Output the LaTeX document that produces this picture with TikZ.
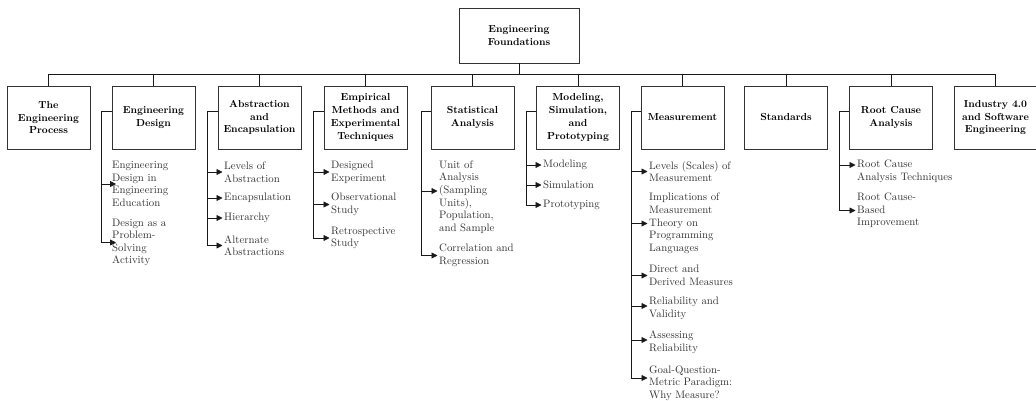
\documentclass[tikz,border=0pt]{standalone}
\usepackage{tikz}
\usetikzlibrary{arrows.meta}
\tikzset{
  radice/.style = {rectangle, draw=black!80, line width=0.9pt, minimum width=120pt, minimum height=55pt, align=center, font=\bfseries\fontsize{10.2}{12.8}\selectfont},
  area/.style   = {rectangle, draw=black!80, line width=0.9pt, minimum width=83pt, minimum height=63pt, align=center, inner sep=1pt, font=\bfseries\fontsize{10.2}{12.8}\selectfont},
  voce/.style   = {anchor=west, align=left, inner sep=0pt, text=black!80, font=\fontsize{10.8}{12.6}\selectfont},
  link/.style   = {draw=black!90, line width=0.8pt},
  leaf/.style   = {draw=black!90, line width=0.8pt, -{Triangle[length=6pt,width=6pt]}}
}
\begin{document}
\begin{tikzpicture}[x=1pt,y=-1pt]
  \useasboundingbox (0,0) rectangle (1036,401);

  % ---------- radice ----------
  \node[radice] (root) at (519,35.5) {Engineering\\Foundations};

  % ---------- aree ----------
  \node[area] (t1)  at (48.5,117.5)  {The\\Engineering\\Process};
  \node[area] (t2)  at (153.5,117.5) {Engineering\\Design};
  \node[area] (t3)  at (259.5,117.5) {Abstraction\\and\\Encapsulation};
  \node[area] (t4)  at (365.5,117.5) {Empirical\\Methods and\\Experimental\\Techniques};
  \node[area] (t5)  at (472.5,117.5) {Statistical\\Analysis};
  \node[area] (t6)  at (578,117.5)   {Modeling,\\Simulation,\\and\\Prototyping};
  \node[area] (t7)  at (682.5,117.5) {Measurement};
  \node[area] (t8)  at (786,117.5)   {Standards};
  \node[area] (t9)  at (891,117.5)   {Root Cause\\Analysis};
  \node[area] (t10) at (995.5,117.5) {Industry 4.0\\and Software\\Engineering};

  \coordinate (bus) at (519,74);
  \draw[link] (root.south) -- (bus);
  \foreach \t in {t1,t2,t3,t4,t5,t6,t7,t8,t9,t10}
    \draw[link] (bus) -| (\t.north);

  % ---------- Engineering Design ----------
  \node[voce] (e1) at (112,184)   {Engineering\\Design in\\Engineering\\Education};
  \node[voce] (e2) at (112,242.5) {Design as a\\Problem-\\Solving\\Activity};
  \coordinate (b2) at (101,111);
  \draw[link] (b2 -| t2.west) -- (b2) -- (b2 |- e2.west);
  \draw[leaf] (b2 |- e1.west) -- ([xshift=4pt]e1.west);
  \draw[leaf] (b2 |- e2.west) -- ([xshift=4pt]e2.west);

  % ---------- Abstraction and Encapsulation ----------
  \node[voce] (a1) at (224,172)   {Levels of\\Abstraction};
  \node[voce] (a2) at (224,198)   {Encapsulation};
  \node[voce] (a3) at (224,218)   {Hierarchy};
  \node[voce] (a4) at (224,245.5) {Alternate\\Abstractions};
  \coordinate (b3) at (207,111);
  \draw[link] (b3 -| t3.west) -- (b3) -- (b3 |- a4.west);
  \foreach \v in {a1,a2,a3,a4}
    \draw[leaf] (b3 |- \v.west) -- ([xshift=-1.5pt]\v.west);

  % ---------- Empirical Methods ----------
  \node[voce] (m1) at (331,172)   {Designed\\Experiment};
  \node[voce] (m2) at (331,204.5) {Observational\\Study};
  \node[voce] (m3) at (331,238)   {Retrospective\\Study};
  \coordinate (b4) at (313,111);
  \draw[link] (b4 -| t4.west) -- (b4) -- (b4 |- m3.west);
  \foreach \v in {m1,m2,m3}
    \draw[leaf] (b4 |- \v.west) -- ([xshift=-1.5pt]\v.west);

  % ---------- Statistical Analysis ----------
  \node[voce] (s1) at (439,197)   {Unit of\\Analysis\\(Sampling\\Units),\\Population,\\and Sample};
  \node[voce] (s2) at (439,255.5) {Correlation and\\Regression};
  \coordinate (b5) at (421,111);
  \coordinate (s1a) at ([xshift=-1.5pt,yshift=6pt]s1.west);
  \draw[link] (b5 -| t5.west) -- (b5) -- (b5 |- s2.west);
  \draw[leaf] (b5 |- s1a) -- (s1a);
  \draw[leaf] (b5 |- s2.west) -- ([xshift=-1.5pt]s2.west);

  % ---------- Modeling, Simulation, and Prototyping ----------
  \node[voce] (p1) at (543,165) {Modeling};
  \node[voce] (p2) at (543,185) {Simulation};
  \node[voce] (p3) at (543,205) {Prototyping};
  \coordinate (b6) at (526,111);
  \draw[link] (b6 -| t6.west) -- (b6) -- (b6 |- p3.west);
  \foreach \v in {p1,p2,p3}
    \draw[leaf] (b6 |- \v.west) -- ([xshift=-1.5pt]\v.west);

  % ---------- Measurement ----------
  \node[voce] (q1) at (649,171.5) {Levels (Scales) of\\Measurement};
  \node[voce] (q2) at (649,223.5) {Implications of\\Measurement\\Theory on\\Programming\\Languages};
  \node[voce] (q3) at (649,275.5) {Direct and\\Derived Measures};
  \node[voce] (q4) at (649,308.5) {Reliability and\\Validity};
  \node[voce] (q5) at (649,342)   {Assessing\\Reliability};
  \node[voce] (q6) at (649,383)   {Goal-Question-\\Metric Paradigm:\\Why Measure?};
  \coordinate (b7) at (631,111);
  \coordinate (q4a) at ([xshift=-1.5pt,yshift=2.5pt]q4.west);
  \coordinate (q5a) at ([xshift=-1.5pt,yshift=2pt]q5.west);
  \coordinate (q6a) at ([xshift=-1.5pt,yshift=5pt]q6.west);
  \draw[link] (b7 -| t7.west) -- (b7) -- (b7 |- q6a);
  \foreach \v in {q1,q2,q3}
    \draw[leaf] (b7 |- \v.west) -- ([xshift=-1.5pt]\v.west);
  \foreach \v in {q4a,q5a,q6a}
    \draw[leaf] (b7 |- \v) -- (\v);

  % ---------- Root Cause Analysis ----------
  \node[voce] (r1) at (857,171.5) {Root Cause\\Analysis Techniques};
  \node[voce] (r2) at (857,210.5) {Root Cause-\\Based\\Improvement};
  \coordinate (b9) at (839,111);
  \coordinate (r1a) at ([xshift=-1.5pt,yshift=6.5pt]r1.west);
  \draw[link] (b9 -| t9.west) -- (b9) -- (b9 |- r2.west);
  \draw[leaf] (b9 |- r1a) -- (r1a);
  \draw[leaf] (b9 |- r2.west) -- ([xshift=-1.5pt]r2.west);

\end{tikzpicture}
\end{document}
